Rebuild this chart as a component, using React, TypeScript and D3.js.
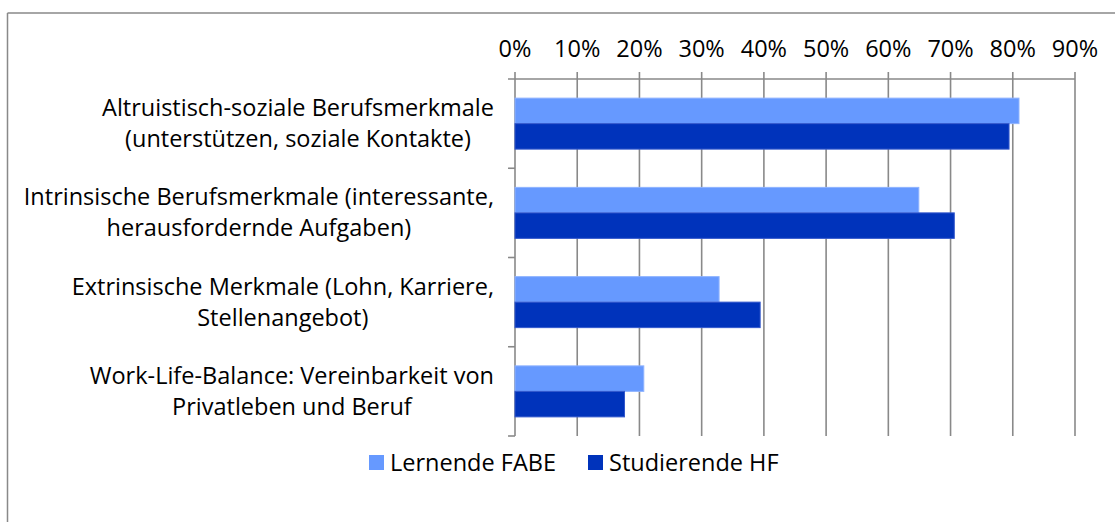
import React from "react";
import * as d3 from "d3";

const categories: string[][] = [
  ["Altruistisch-soziale Berufsmerkmale", "(unterstützen, soziale Kontakte)"],
  ["Intrinsische Berufsmerkmale (interessante,", "herausfordernde Aufgaben)"],
  ["Extrinsische Merkmale (Lohn, Karriere,", "Stellenangebot)"],
  ["Work-Life-Balance: Vereinbarkeit von", "Privatleben und Beruf"],
];
const seriesNames = ["Lernende FABE", "Studierende HF"];
const lernendeFABE = [0.81, 0.649, 0.328, 0.207];
const studierendeHF = [0.794, 0.706, 0.394, 0.176];
const tickValues = [0, 0.1, 0.2, 0.3, 0.4, 0.5, 0.6, 0.7, 0.8, 0.9];
const colors = ["#6699FF", "#0033BB"];
const strokes = ["#8FB3FF", "#3358CC"];

const W = 1115;
const H = 522;
const FONT = "'Open Sans', sans-serif";
const FS = 23.5;

function measure(text: string, size = FS): number {
  const c = document.createElement("canvas").getContext("2d");
  if (!c) return text.length * size * 0.5;
  c.font = `${size}px 'Open Sans'`;
  return c.measureText(text).width;
}

export default function App() {
  const left = 515;
  const right = 1075;
  const top = 79;
  const bottom = 436;
  const x = d3.scaleLinear().domain([0, 0.9]).range([left, right]);
  const y = d3
    .scaleBand<number>()
    .domain(categories.map((_, i) => i))
    .range([top, bottom])
    .paddingInner(0)
    .paddingOuter(0);
  const inner = d3
    .scaleBand<number>()
    .domain([0, 1])
    .range([0, y.bandwidth()])
    .paddingInner(0)
    .paddingOuter(0.75);
  const series = [lernendeFABE, studierendeHF];
  const grid = "#898989";

  const legendX = [369, 588];

  return (
    <svg width={W} height={H} style={{ position: "absolute", left: 0, top: 0 }}>
      <rect x={0} y={0} width={W} height={H} fill="#fff" />
      <line x1={7.5} y1={13} x2={W} y2={13} stroke={grid} strokeWidth={1.5} />
      <line x1={7.5} y1={13} x2={7.5} y2={H} stroke={grid} strokeWidth={1.5} />
      {tickValues.map((t) => (
        <g key={t}>
          <line x1={x(t)} x2={x(t)} y1={top - 7} y2={bottom} stroke={grid} strokeWidth={1.6} />
          <text
            x={x(t)}
            y={57}
            textAnchor="middle"
            fontFamily={FONT}
            fontSize={FS}
            fill="#000"
          >
            {d3.format(".0%")(t)}
          </text>
        </g>
      ))}
      <line x1={left - 7} x2={right} y1={top} y2={top} stroke={grid} strokeWidth={1.6} />
      {categories.map((_, i) => (
        <line
          key={i}
          x1={left - 7}
          x2={left}
          y1={(y(i) as number) + y.bandwidth()}
          y2={(y(i) as number) + y.bandwidth()}
          stroke={grid}
          strokeWidth={1.6}
        />
      ))}
      {categories.map((_, i) =>
        series.map((s, j) => (
          <rect
            key={`${i}-${j}`}
            x={x(0)}
            y={(y(i) as number) + (inner(j) as number)}
            width={x(s[i]) - x(0)}
            height={inner.bandwidth()}
            fill={colors[j]}
            stroke={strokes[j]}
            strokeWidth={1}
          />
        ))
      )}
      {categories.map((lines, i) => {
        const maxW = Math.max(...lines.map((l) => measure(l)));
        const cx = 494 - maxW / 2;
        const cy = (y(i) as number) + y.bandwidth() / 2;
        return (
          <text key={i} textAnchor="middle" fontFamily={FONT} fontSize={FS} fill="#000">
            {lines.map((l, k) => (
              <tspan key={k} x={cx} y={cy + (k - (lines.length - 1) / 2) * 31 + 8}>
                {l}
              </tspan>
            ))}
          </text>
        );
      })}
      {seriesNames.map((n, j) => (
        <g key={n}>
          <rect x={legendX[j]} y={455} width={15} height={15} fill={colors[j]} />
          <text x={legendX[j] + 21} y={471} fontFamily={FONT} fontSize={FS} fill="#000">
            {n}
          </text>
        </g>
      ))}
    </svg>
  );
}
